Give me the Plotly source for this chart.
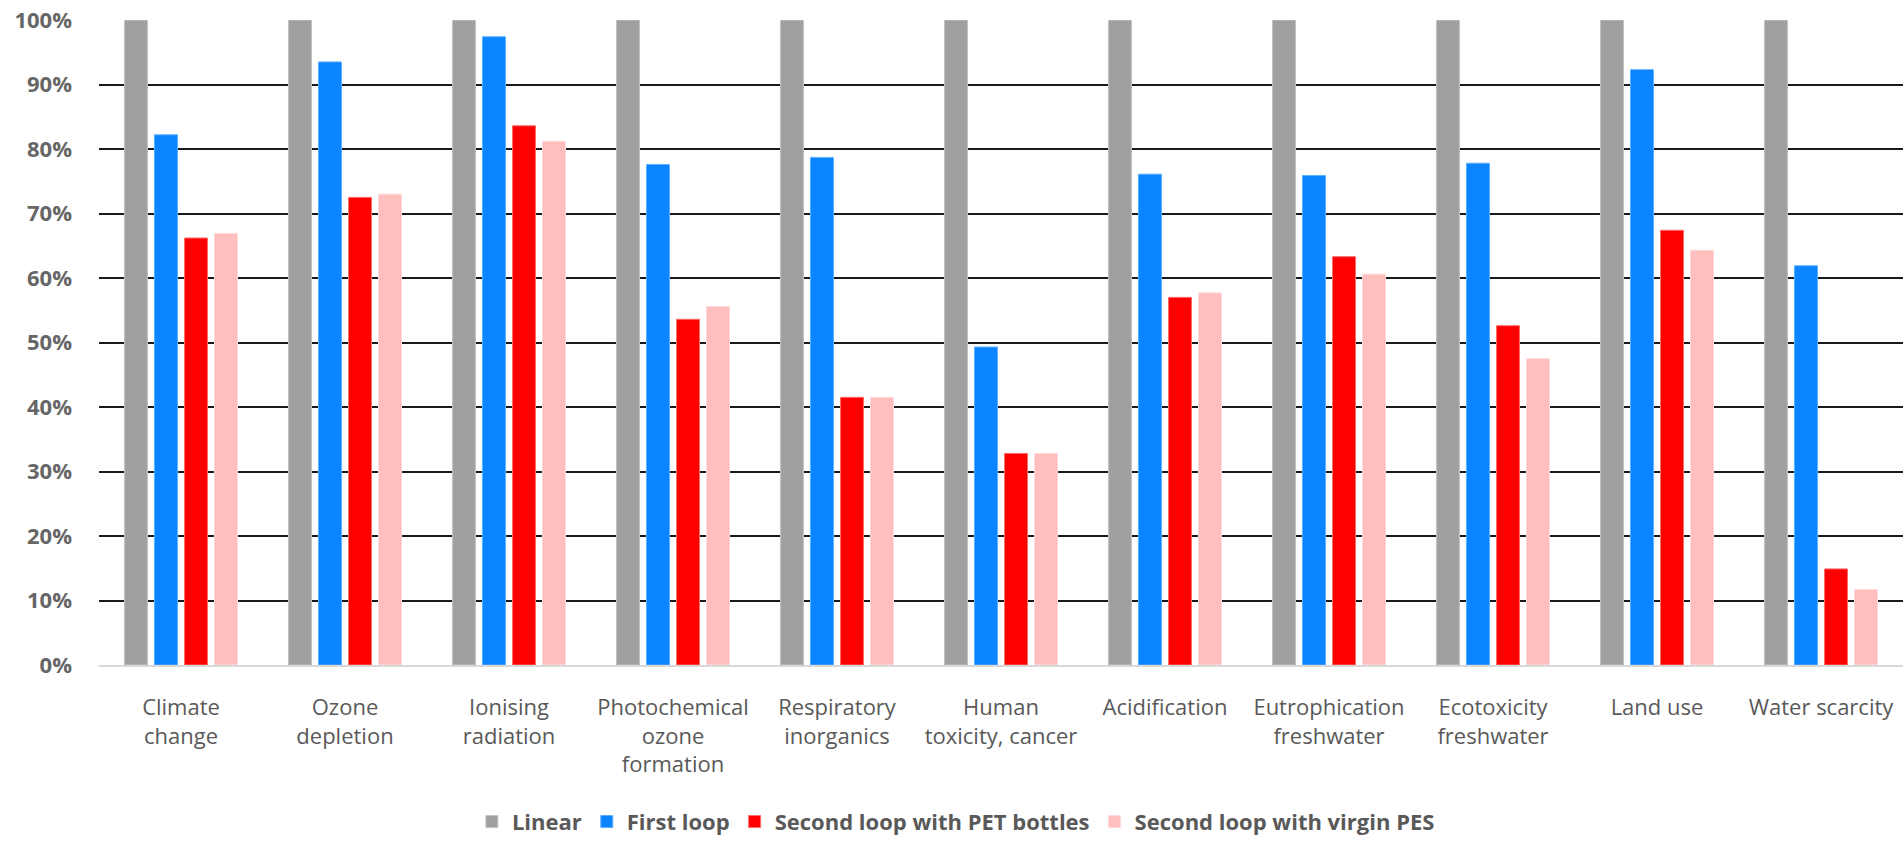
import plotly.graph_objects as go

categories = [
    "Climate<br>change",
    "Ozone<br>depletion",
    "Ionising<br>radiation",
    "Photochemical<br>ozone<br>formation",
    "Respiratory<br>inorganics",
    "Human<br>toxicity, cancer",
    "Acidification",
    "Eutrophication<br>freshwater",
    "Ecotoxicity<br>freshwater",
    "Land use",
    "Water scarcity",
]

linear = [100, 100, 100, 100, 100, 100, 100, 100, 100, 100, 100]
first_loop = [82.2, 93.5, 97.4, 77.6, 78.7, 49.3, 76.1, 75.9, 77.8, 92.3, 61.9]
second_pet = [66.2, 72.5, 83.6, 53.6, 41.5, 32.8, 57.0, 63.3, 52.6, 67.4, 14.9]
second_virgin = [66.9, 73.0, 81.2, 55.6, 41.5, 32.8, 57.7, 60.6, 47.5, 64.3, 11.7]

series = [
    ("Linear", linear, "#A0A0A0", "#C4C4C4"),
    ("First loop", first_loop, "#0A84FF", "#5DB0FF"),
    ("Second loop with PET bottles", second_pet, "#FF0000", "#FF6A6A"),
    ("Second loop with virgin PES", second_virgin, "#FFBFBF", "#FFD9D9"),
]

fig = go.Figure()
for name, vals, color, edge in series:
    fig.add_trace(go.Bar(
        name=name,
        x=categories,
        y=[v / 100 for v in vals],
        marker=dict(color=color, line=dict(color=edge, width=1)),
    ))

fig.update_layout(
    width=1903,
    height=843,
    margin=dict(l=99, r=0, t=20, b=172),
    paper_bgcolor="white",
    plot_bgcolor="white",
    barmode="group",
    bargap=0.268,
    bargroupgap=0.233,
    font=dict(family="Open Sans", color="#595959"),
    legend=dict(
        orientation="h",
        x=0.475,
        xanchor="center",
        y=-0.243,
        yanchor="middle",
        font=dict(family="Open Sans", size=22, color="#595959", weight="bold"),
        itemwidth=30,
        traceorder="normal",
    ),
    xaxis=dict(
        showgrid=False,
        showline=True,
        linecolor="#D9D9D9",
        linewidth=1.5,
        ticks="",
        tickfont=dict(family="Open Sans", size=22, color="#595959"),
        ticklabelstandoff=22,
    ),
    yaxis=dict(
        range=[0, 1],
        dtick=0.1,
        tickformat=".0%",
        showgrid=True,
        gridcolor="#1A1A1A",
        gridwidth=1.5,
        zeroline=False,
        showline=False,
        ticks="",
        tickfont=dict(family="Open Sans", size=22, color="#666666", weight="bold"),
        ticklabelstandoff=26,
    ),
)

fig.write_html("out.html")
